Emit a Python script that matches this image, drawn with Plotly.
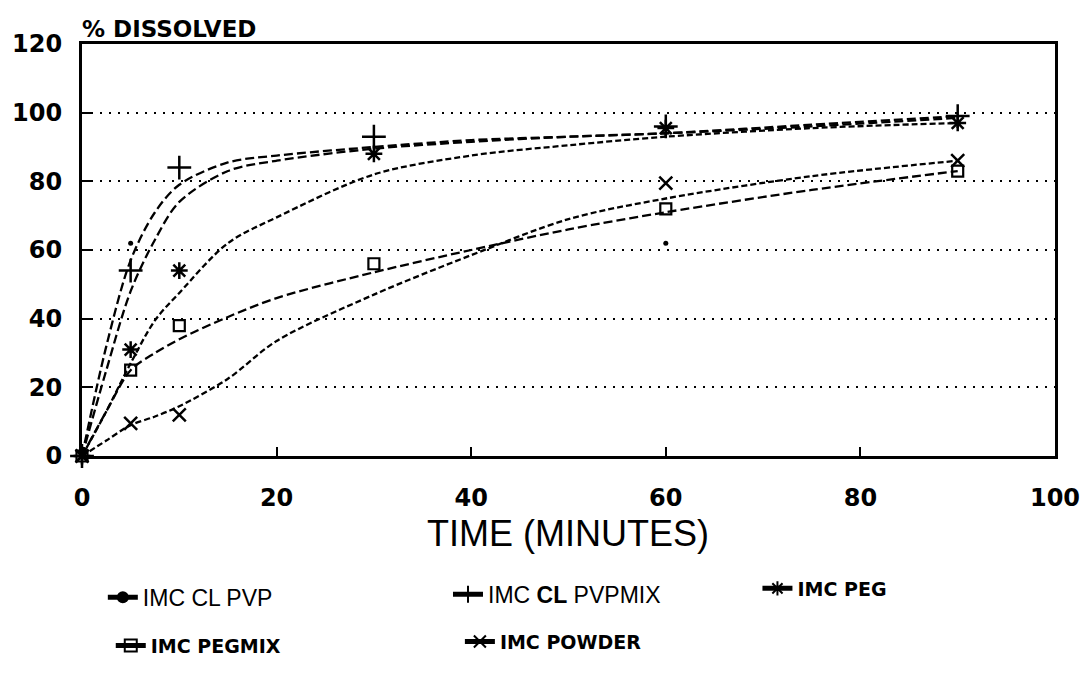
import plotly.graph_objects as go

# ---- measured data points (time in minutes, % dissolved) ----
t_pts = [0, 5, 10, 30, 60, 90]
pvp_t = [0, 5, 60]
pvp_pts = [0, 62, 62]
pvpmix_pts = [0, 54, 84, 93, 96, 99]
peg_pts = [0, 31, 54, 88, 95.5, 97]
pegmix_pts = [0, 25, 38, 56, 72, 83]
powder_t = [0, 5, 10, 60, 90]
powder_pts = [0, 9.5, 12, 79.5, 86]

# ---- fitted curves ----
t_fit = [0, 2.5, 5, 7.5, 10, 15, 20, 30, 40, 50, 60, 75, 90]
pvp_fit = [0, 32, 57, 71, 79, 85.5, 87.5, 90, 92, 93, 94, 96.5, 99]
pvpmix_fit = [0, 25, 48, 63, 74, 83, 86, 89.5, 91.5, 93, 94, 96, 98.5]
peg_fit = [0, 13, 27, 39.5, 47.5, 62, 69.5, 82, 87.5, 90.5, 93, 95.5, 97]
pegmix_fit = [0, 13, 25, 30, 34, 40.5, 46, 53.5, 60, 66, 71, 77.5, 83]
powder_fit = [0, 4.5, 9, 11.5, 14.5, 22.5, 33.5, 47, 58.5, 69, 75, 81.5, 86]

x_ticks = [0, 20, 40, 60, 80, 100]
y_ticks = [0, 20, 40, 60, 80, 100, 120]

names = ["IMC CL PVP", "IMC <b>CL</b> PVPMIX", "<b>IMC PEG</b>", "<b>IMC PEGMIX</b>", "<b>IMC POWDER</b>"]

BLACK = "black"
fig = go.Figure()

curves = [
    (pvp_fit, "9px,4px"),
    (pvpmix_fit, "9px,4px"),
    (peg_fit, "6px,3px"),
    (pegmix_fit, "9px,4px"),
    (powder_fit, "6px,3px"),
]
for yv, dash in curves:
    fig.add_trace(go.Scatter(x=t_fit, y=yv, mode="lines", line=dict(color=BLACK, width=2.3, dash=dash, shape="spline", smoothing=0.9),
                             showlegend=False, hoverinfo="skip", cliponaxis=False))

markers = [
    (pvp_t, pvp_pts, dict(symbol="circle", size=5, color=BLACK)),
    (t_pts, pvpmix_pts, dict(symbol="cross-thin-open", size=17, color=BLACK, line=dict(color=BLACK, width=2.5))),
    (t_pts, peg_pts, dict(symbol="asterisk-open", size=14, color=BLACK, line=dict(color=BLACK, width=2.5))),
    (t_pts, pegmix_pts, dict(symbol="square-open", size=11, color=BLACK, line=dict(color=BLACK, width=2.2))),
    (powder_t, powder_pts, dict(symbol="x-thin-open", size=13, color=BLACK, line=dict(color=BLACK, width=2.5))),
]
for xv, yv, mk in markers:
    fig.add_trace(go.Scatter(x=xv, y=yv, mode="markers", marker=mk, showlegend=False, cliponaxis=False))

# legend entries (one legend box per entry so they sit like the original key)
legend_marks = [
    dict(symbol="circle", size=4, color=BLACK),
    dict(symbol="cross-thin-open", size=12, color=BLACK, line=dict(color=BLACK, width=1.3)),
    dict(symbol="asterisk-open", size=10, color=BLACK, line=dict(color=BLACK, width=1.3)),
    dict(symbol="square-open", size=8, color=BLACK, line=dict(color=BLACK, width=1.3)),
    dict(symbol="x-thin-open", size=8, color=BLACK, line=dict(color=BLACK, width=1.3)),
]
legend_ids = ["legend", "legend2", "legend3", "legend4", "legend5"]
for nm, mk, lid in zip(names, legend_marks, legend_ids):
    fig.add_trace(go.Scatter(x=[None], y=[None], mode="lines+markers", name=nm, legend=lid,
                             line=dict(color=BLACK, width=1), marker=mk))

L, R, T, B = 77, 1058, 44, 470
W, H = 1092, 676
pw, ph = R - L, B - T
def px(xp):
    return (xp - L) / pw
def py(yp):
    return (B - yp) / ph

reg_font = dict(family="Liberation Sans, Arial", size=23, color=BLACK)
bold_font = dict(family="DejaVu Sans", size=19, color=BLACK)
def leg(xp, yp, font):
    return dict(x=px(xp), y=py(yp), xanchor="left", yanchor="middle", orientation="v",
                bgcolor="rgba(0,0,0,0)", borderwidth=0, font=font, itemsizing="constant")

fig.update_layout(
    width=W, height=H,
    margin=dict(l=L, r=W - R, t=T, b=H - B),
    paper_bgcolor="white", plot_bgcolor="white",
    legend=leg(98, 616, reg_font),
    legend2=leg(446, 613, reg_font),
    legend3=leg(758, 607, bold_font),
    legend4=leg(106, 666, bold_font),
    legend5=leg(458, 662, bold_font),
    xaxis=dict(range=[0, 100], tickvals=x_ticks, ticks="inside", ticklen=9, tickwidth=1.5, tickcolor=BLACK,
               showline=True, linewidth=3, linecolor=BLACK, mirror=True, showgrid=False, zeroline=False,
               tickfont=dict(family="DejaVu Sans", size=24, color=BLACK, weight="bold"), ticklabelstandoff=18),
    yaxis=dict(range=[0, 120], tickvals=y_ticks, ticks="inside", ticklen=10, tickwidth=2, tickcolor=BLACK,
               showline=True, linewidth=3, linecolor=BLACK, mirror=True, zeroline=False,
               showgrid=True, gridcolor=BLACK, gridwidth=1.5, griddash="2px,7px",
               tickfont=dict(family="DejaVu Sans", size=24, color=BLACK, weight="bold"), ticklabelstandoff=12),
    annotations=[
        dict(text="% DISSOLVED", xref="paper", yref="paper", x=px(75), y=py(29), xanchor="left", yanchor="middle",
             showarrow=False, font=dict(family="DejaVu Sans", size=23, color=BLACK, weight="bold")),
        dict(text="TIME (MINUTES)", xref="paper", yref="paper", x=px(567), y=py(550), xanchor="center", yanchor="middle",
             showarrow=False, font=dict(family="Liberation Sans, Arial", size=36, color=BLACK)),
    ],
)

fig.write_html("out.html")
